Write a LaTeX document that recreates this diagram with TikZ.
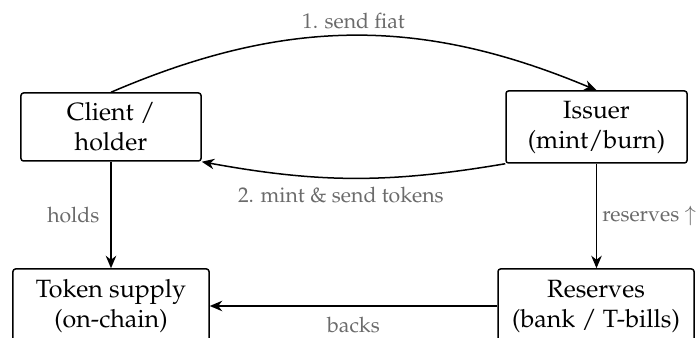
\documentclass[tikz,border=0pt]{standalone}
\usepackage[T1]{fontenc}
\usepackage{mathpazo}
\usetikzlibrary{arrows.meta}
\tikzset{
  box/.style={draw, semithick, rounded corners=1pt, align=center, inner sep=0pt},
  arr/.style={semithick, -{Stealth[length=5pt,width=4.2pt,inset=1.6pt]}},
  lbl/.style={font=\fontsize{8.5}{10}\selectfont, text=black!58}
}
\begin{document}
\begin{tikzpicture}[x=0.4pt, y=0.4pt]
  \useasboundingbox (0,0) rectangle (699,338);

  % top row
  \node[box, minimum width=72pt, minimum height=27.2pt] (client) at (111,211) {Client /\\holder};
  \node[box, minimum width=72.4pt, minimum height=28.8pt] (issuer) at (596.5,211) {Issuer\\(mint/burn)};

  % bottom row
  \node[box, minimum width=78.4pt, minimum height=29.6pt] (token) at (111,32) {Token supply\\(on-chain)};
  \node[box, minimum width=78.4pt, minimum height=29.6pt] (reserves) at (596,32) {Reserves\\(bank / T-bills)};

  % flows between client and issuer
  \draw[arr] (client.north) to[bend left=23] node[above, lbl, yshift=-1pt] {1. send fiat} (issuer.north);
  \draw[arr] (issuer.south west) to[bend left=10] node[below, lbl, xshift=-5pt] {2. mint \& send tokens} (client.south east);

  % holdings and backing
  \draw[arr] (client.south) -- node[left, lbl, xshift=-1pt] {holds} (client.south |- token.north);
  \draw[arr] (issuer.south) -- node[right, lbl, xshift=-1.3pt] {reserves $\uparrow$} (issuer.south |- reserves.north);
  \draw[arr] (reserves.west) -- node[below, lbl, yshift=-1pt] {backs} (token.east);
\end{tikzpicture}
\end{document}
